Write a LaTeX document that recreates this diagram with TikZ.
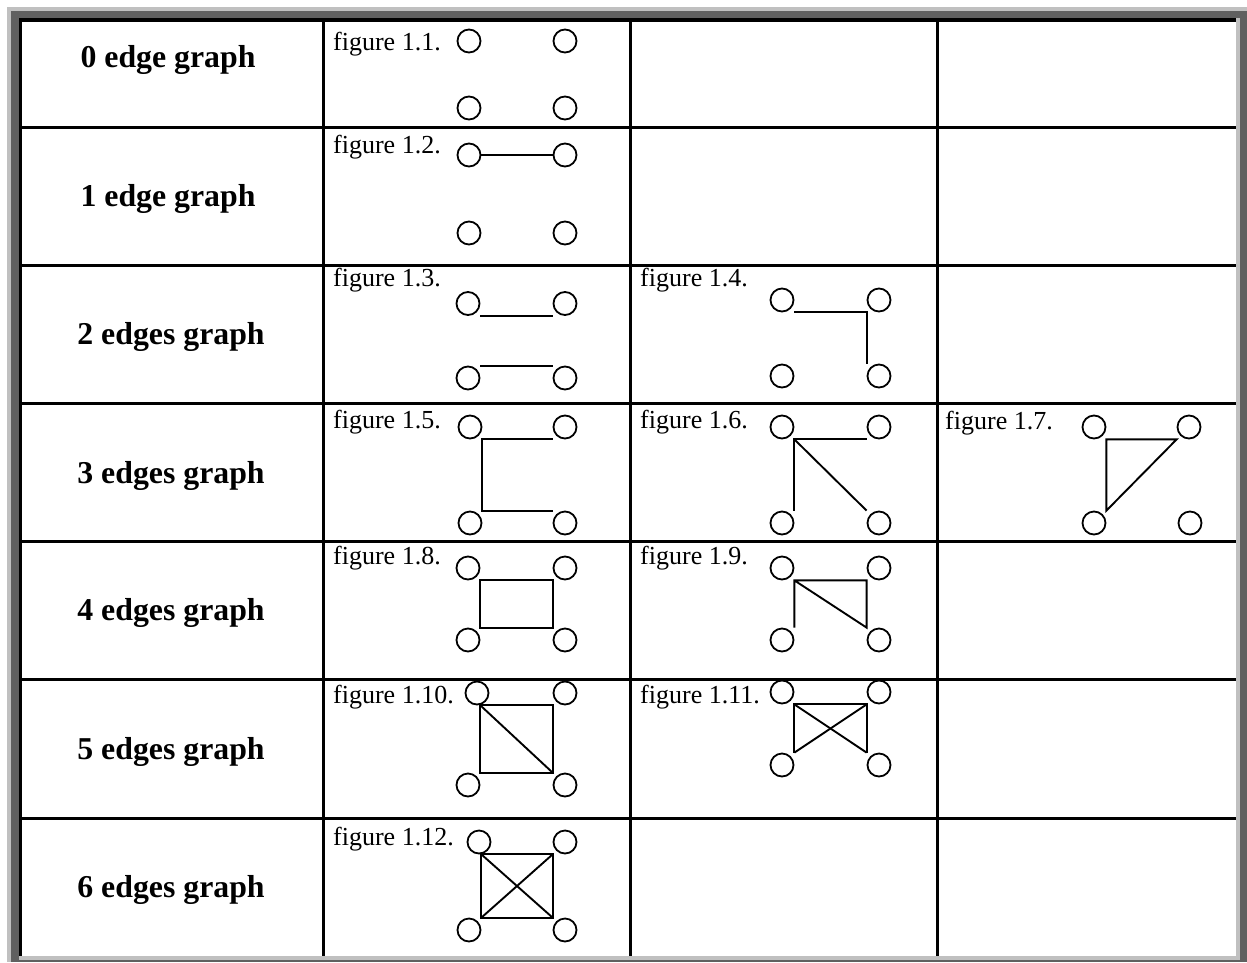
\documentclass[tikz,border=0pt]{standalone}
\usepackage{fontspec}
\setmainfont{Liberation Serif}
\usepackage{tikz}
\usetikzlibrary{calc}
\definecolor{bevellight}{RGB}{192,192,192}
\definecolor{beveldark} {RGB}{96,96,96}
\tikzset{
  vtx/.style    ={draw, circle, line width=1.8pt, minimum size=23pt, inner sep=0pt},
  edg/.style    ={line width=1.9pt},
  rowlbl/.style ={font=\fontsize{31.8}{38}\selectfont\bfseries, anchor=base, inner sep=0pt},
  figlbl/.style ={font=\fontsize{26}{30}\selectfont, anchor=base west, inner sep=0pt},
  gridrule/.style={line width=3pt},
}
% the four vertices of one small graph: prefix, tl, tr, bl, br
\newcommand{\graphvtx}[5]{%
  \node[vtx] (#1tl) at (#2) {};
  \node[vtx] (#1tr) at (#3) {};
  \node[vtx] (#1bl) at (#4) {};
  \node[vtx] (#1br) at (#5) {};
  \coordinate (#1A) at (#1tl.east |- #1tl.south);
  \coordinate (#1B) at (#1tr.west |- #1tr.south);
  \coordinate (#1C) at (#1br.west |- #1br.north);
  \coordinate (#1D) at (#1bl.east |- #1bl.north);}

\begin{document}
\begin{tikzpicture}[x=1pt, y=-1pt]
  \useasboundingbox (0,0) rectangle (1247,962);
  \fill[white] (0,0) rectangle (1247,962);

  % bevelled frame
  \fill[bevellight] (7,7) rectangle (1247,10.5);
  \fill[bevellight] (7,7) rectangle (11,962);
  \fill[beveldark] (11,10.5) rectangle (1247,18);
  \fill[beveldark] (11,10.5) rectangle (19,962);
  \fill[bevellight] (1236,18) rectangle (1240,956);
  \fill[beveldark] (1240,10.5) rectangle (1247,962);
  \fill[bevellight] (19,956) rectangle (1240,960);
  \fill[beveldark] (11,960) rectangle (1247,962);
  \fill[black] (19,18) rectangle (1236,22);
  \fill[black] (19,18) rectangle (22,956);

  % table rules
  \draw[gridrule] (323,20)--(323,956); \draw[gridrule] (630,20)--(630,956);
  \draw[gridrule] (937,20)--(937,956);
  \draw[gridrule] (20,127.5)--(1236,127.5); \draw[gridrule] (20,265)--(1236,265);
  \draw[gridrule] (20,403)--(1236,403);     \draw[gridrule] (20,541)--(1236,541);
  \draw[gridrule] (20,679)--(1236,679);     \draw[gridrule] (20,818)--(1236,818);

  % row titles
  \node[rowlbl] (r0) at (168,67)  {0 edge graph};
  \node[rowlbl] (r1) at (168,206) {1 edge graph};
  \node[rowlbl] (r2) at (171,344) {2 edges graph};
  \node[rowlbl] (r3) at (171,483) {3 edges graph};
  \node[rowlbl] (r4) at (171,620) {4 edges graph};
  \node[rowlbl] (r5) at (171,759) {5 edges graph};
  \node[rowlbl] (r6) at (171,897) {6 edges graph};

  % captions
  \node[figlbl] (c1)  at (333,50)  {figure 1.1.};
  \node[figlbl] (c2)  at (333,153) {figure 1.2.};
  \node[figlbl] (c3)  at (333,286) {figure 1.3.};
  \node[figlbl] (c4)  at (640,286) {figure 1.4.};
  \node[figlbl] (c5)  at (333,428) {figure 1.5.};
  \node[figlbl] (c6)  at (640,428) {figure 1.6.};
  \node[figlbl] (c7)  at (945,429) {figure 1.7.};
  \node[figlbl] (c8)  at (333,564) {figure 1.8.};
  \node[figlbl] (c9)  at (640,564) {figure 1.9.};
  \node[figlbl] (c10) at (333,703) {figure 1.10.};
  \node[figlbl] (c11) at (640,703) {figure 1.11.};
  \node[figlbl] (c12) at (333,845) {figure 1.12.};

  % vertices
  \graphvtx{f1}{469,41}{565,41}{469,108}{565,108}
  \graphvtx{f2}{469,155}{565,155}{469,233}{565,233}
  \graphvtx{f3}{468,303.5}{565,303.5}{468,378}{565,378}
  \graphvtx{f4}{782,300}{879,300}{782,376}{879,376}
  \graphvtx{f5}{470,427}{565,427}{470,523}{565,523}
  \graphvtx{f6}{782,427}{879,427}{782,523}{879,523}
  \graphvtx{f7}{1094,427}{1189,427}{1094,523}{1190,523}
  \graphvtx{f8}{468,568}{565,568}{468,640}{565,640}
  \graphvtx{f9}{782,568}{879,568}{782,640}{879,640}
  \graphvtx{f10}{477,693}{565,693}{468,785}{565,785}
  \graphvtx{f11}{782,692}{879,692}{782,765}{879,765}
  \graphvtx{f12}{479,842}{565,842}{469,930}{565,930}
  \coordinate (f10A) at (f10bl.east |- f10tl.south);
  \coordinate (f12A) at (f12bl.east |- f12tl.south);

  % edges
  \draw[edg] (f2tl.east)--(f2tr.west);
  \draw[edg] (f3A)--(f3B); \draw[edg] (f3D)--(f3C);
  \draw[edg] (f4A)--(f4B)--(f4C);
  \draw[edg] (f5B)--(f5A)--(f5D)--(f5C);
  \draw[edg] (f6B)--(f6A)--(f6D); \draw[edg] (f6A)--(f6C);
  \draw[edg] (f7A)--(f7B)--(f7D)--cycle;
  \draw[edg] (f8A)--(f8B)--(f8C)--(f8D)--cycle;
  \draw[edg] (f9D)--(f9A)--(f9B)--(f9C)--(f9A);
  \draw[edg] (f10A)--(f10B)--(f10C)--(f10D)--cycle; \draw[edg] (f10A)--(f10C);
  \draw[edg] (f11D)--(f11A)--(f11B)--(f11C); \draw[edg] (f11A)--(f11C);
  \draw[edg] (f11B)--(f11D);
  \draw[edg] (f12A)--(f12B)--(f12C)--(f12D)--cycle; \draw[edg] (f12A)--(f12C);
  \draw[edg] (f12B)--(f12D);
\end{tikzpicture}
\end{document}
